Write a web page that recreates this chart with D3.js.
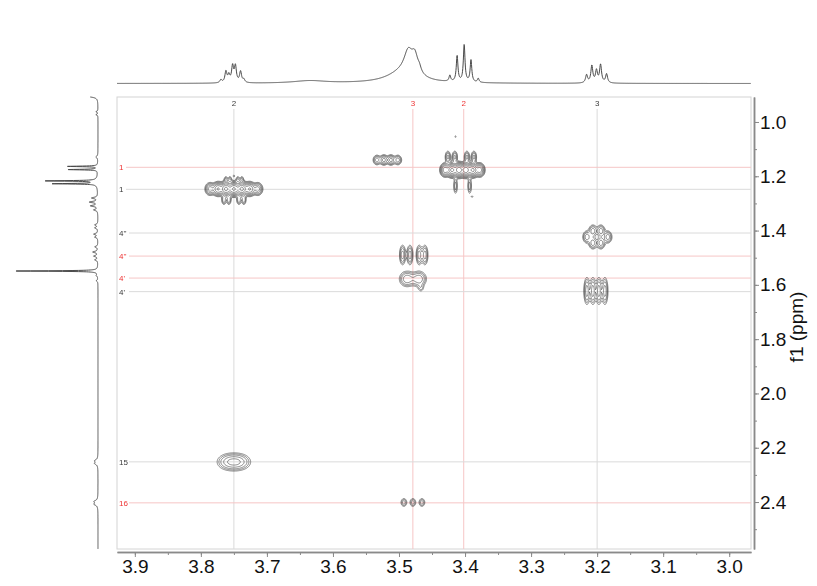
<!DOCTYPE html>
<html>
<head>
<meta charset="utf-8">
<script src="https://cdn.jsdelivr.net/npm/d3@7"></script>
<style>
  body { margin: 0; background: #fff; }
  text { font-family: "Liberation Sans", Arial, sans-serif; }
</style>
</head>
<body>
<svg id="chart" width="817" height="586">
  <defs>
    <!-- identity filter: renders the small labels with plain greyscale smoothing -->
    <filter id="flat"><feOffset dx="0" dy="0"/></filter>
  </defs>
</svg>
<script>
// ---------- axis ticks ----------
const f2Ticks = [3.9, 3.8, 3.7, 3.6, 3.5, 3.4, 3.3, 3.2, 3.1, 3.0];
const f1Ticks = [1.0, 1.2, 1.4, 1.6, 1.8, 2.0, 2.2, 2.4];
const f1Title = "f1 (ppm)";

// ---------- assignment guide lines ----------
const f2Guides      = [3.750, 3.479, 3.402, 3.200];
const f2GuideLabels = ["2", "3", "2", "3"];
const f2GuideRed    = [false, true, true, false];

const f1Guides      = [1.167, 1.248, 1.409, 1.494, 1.575, 1.625, 2.252, 2.403];
const f1GuideLabels = ["1", "1", "4''", "4''", "4'", "4'", "15", "16"];
const f1GuideRed    = [true, false, false, true, true, false, false, true];

// ---------- 1H trace along f2 (top): [ppm, height, half width] ----------
const f2Lines = [
  [3.7697, 3, 0.0018], [3.7621, 11, 0.0018], [3.7576, 7, 0.0018],
  [3.7520, 16, 0.0018], [3.7477, 16, 0.0018], [3.7399, 11, 0.0018], [3.7349, 3, 0.0018],
  [3.6350, 2.5, 0.030],
  [3.4960, 10, 0.028], [3.4860, 22, 0.008], [3.4760, 18, 0.006], [3.4690, 4, 0.003],
  [3.4230, 6, 0.0015], [3.4120, 26, 0.0015], [3.4013, 37, 0.0015],
  [3.3910, 22, 0.0015], [3.3800, 4, 0.0015],
  [3.2160, 8, 0.0018], [3.2080, 17, 0.0018], [3.2010, 12, 0.0018],
  [3.1948, 18, 0.0018], [3.1857, 9, 0.0018]
];

// ---------- 1H trace along f1 (left): [ppm, height, half width] ----------
const f1Lines = [
  [0.905, 12, 0.004],
  [0.962, 2, 0.002], [0.973, 2, 0.002], [1.129, 2, 0.004],
  [1.1636, 30, 0.0012], [1.1754, 30, 0.0012],
  [1.2170, 51, 0.0012], [1.2275, 43, 0.0012], [1.2220, 3, 0.012],
  [1.280, 6, 0.003], [1.295, 8, 0.003], [1.309, 7, 0.003], [1.324, 4, 0.003],
  [1.379, 3, 0.003], [1.390, 3, 0.003], [1.413, 4, 0.003], [1.424, 3, 0.003],
  [1.460, 3, 0.003], [1.479, 5, 0.003], [1.494, 4, 0.003], [1.508, 3, 0.003],
  [1.549, 84, 0.0012],
  [1.565, 1.5, 0.003], [1.585, 1.5, 0.003],
  [2.248, 3, 0.005], [2.258, 3, 0.005],
  [2.398, 3.5, 0.005], [2.408, 3.5, 0.005]
];

// ---------- cross peaks: [f2 ppm, f1 ppm, amplitude, sigma f2, sigma f1] ----------
const crossPeaks = [
  // H2 / H1 (3.75, 1.25)
  [3.7500, 1.2468, 0.16, 0.0150, 0.0150],
  [3.7863, 1.2468, 0.30, 0.0040, 0.0125], [3.7742, 1.2468, 0.55, 0.0040, 0.0125],
  [3.7621, 1.2468, 0.85, 0.0040, 0.0125], [3.7500, 1.2468, 0.75, 0.0040, 0.0125],
  [3.7379, 1.2468, 0.85, 0.0040, 0.0125], [3.7258, 1.2468, 0.55, 0.0040, 0.0125],
  [3.7137, 1.2468, 0.30, 0.0040, 0.0125],
  [3.7651, 1.2873, 0.16, 0.0021, 0.0110], [3.7576, 1.2873, 0.16, 0.0021, 0.0110],
  [3.7424, 1.2873, 0.16, 0.0021, 0.0110], [3.7349, 1.2873, 0.16, 0.0021, 0.0110],
  [3.7621, 1.2136, 0.12, 0.0018, 0.0092], [3.7560, 1.2136, 0.12, 0.0018, 0.0092],
  [3.7440, 1.2136, 0.12, 0.0018, 0.0092], [3.7379, 1.2136, 0.12, 0.0018, 0.0092],
  [3.7500, 1.1989, 0.08, 0.0012, 0.0030],
  // (3.52, 1.14)
  [3.5335, 1.1400, 0.22, 0.0033, 0.0103], [3.5229, 1.1400, 0.30, 0.0033, 0.0103],
  [3.5123, 1.1400, 0.30, 0.0033, 0.0103], [3.5017, 1.1400, 0.22, 0.0033, 0.0103],
  // H2 / H1 (3.40, 1.17)
  [3.4040, 1.1768, 0.18, 0.0150, 0.0150],
  [3.4305, 1.1768, 0.45, 0.0036, 0.0125], [3.4199, 1.1768, 0.85, 0.0036, 0.0125],
  [3.4093, 1.1768, 0.95, 0.0036, 0.0125], [3.3987, 1.1768, 0.95, 0.0036, 0.0125],
  [3.3881, 1.1768, 0.85, 0.0036, 0.0125], [3.3775, 1.1768, 0.45, 0.0036, 0.0125],
  [3.4260, 1.1289, 0.20, 0.0024, 0.0129], [3.4155, 1.1289, 0.20, 0.0024, 0.0129],
  [3.3972, 1.1289, 0.20, 0.0024, 0.0129], [3.3866, 1.1289, 0.20, 0.0024, 0.0129],
  [3.4144, 1.2357, 0.15, 0.0018, 0.0184], [3.3930, 1.2357, 0.15, 0.0018, 0.0184],
  [3.4144, 1.0541, 0.08, 0.0012, 0.0030], [3.3893, 1.2751, 0.08, 0.0012, 0.0030],
  // H3 / H4'' (3.20, 1.42)
  [3.2155, 1.4236, 0.22, 0.0036, 0.0129], [3.2064, 1.4015, 0.22, 0.0036, 0.0129],
  [3.2064, 1.4457, 0.22, 0.0036, 0.0129], [3.1943, 1.4015, 0.22, 0.0036, 0.0129],
  [3.1943, 1.4457, 0.22, 0.0036, 0.0129], [3.1837, 1.4236, 0.22, 0.0036, 0.0129],
  // H3 / H4' (3.20, 1.62)
  [3.2155, 1.6225, 0.22, 0.0027, 0.0290], [3.2064, 1.6225, 0.22, 0.0027, 0.0290],
  [3.1973, 1.6225, 0.22, 0.0027, 0.0290], [3.1882, 1.6225, 0.22, 0.0027, 0.0290],
  // H3 / H4'' (3.48, 1.49)
  [3.4946, 1.4899, 0.22, 0.0027, 0.0210], [3.4835, 1.4899, 0.22, 0.0027, 0.0210],
  [3.4694, 1.4899, 0.22, 0.0027, 0.0210], [3.4608, 1.4899, 0.22, 0.0027, 0.0210],
  // H3 / H4' (3.48, 1.58)
  [3.4880, 1.5783, 0.24, 0.0065, 0.0160], [3.4699, 1.5783, 0.24, 0.0065, 0.0160],
  [3.4668, 1.6114, 0.08, 0.0030, 0.0100],
  // H2 / H15 (3.75, 2.25)
  [3.7575, 2.2523, 0.20, 0.0106, 0.0175], [3.7425, 2.2523, 0.20, 0.0106, 0.0175],
  // H3 / H16 (3.48, 2.40)
  [3.4926, 2.4015, 0.14, 0.0030, 0.0100], [3.4790, 2.4015, 0.14, 0.0030, 0.0100],
  [3.4653, 2.4015, 0.14, 0.0030, 0.0100]
];
const contourLevels = [0.05, 0.075, 0.11, 0.17, 0.25, 0.38, 0.57, 0.85];

// ---------- layout ----------
const svg = d3.select("#chart");
const frame = { left: 117, right: 751, top: 97, bottom: 549 };
const x = d3.scaleLinear().domain([3.927, 2.967]).range([frame.left, frame.right]);
const y = d3.scaleLinear().domain([0.908, 2.573]).range([frame.top, frame.bottom]);
const topI = d3.scaleLinear().domain([0, 45]).range([83.5, 38.5]);
const leftI = d3.scaleLinear().domain([0, 84]).range([98, 14]);

const lorentz = (lines, p) => d3.sum(lines, l => l[1] / (1 + ((p - l[0]) / l[2]) ** 2));

// plot frame
svg.append("rect")
  .attr("x", frame.left).attr("y", frame.top)
  .attr("width", frame.right - frame.left).attr("height", frame.bottom - frame.top)
  .attr("fill", "none").attr("stroke", "#d4d4d4").attr("stroke-width", 1);

// guide lines with their assignment labels
const gray = "#dadada", pink = "#f6c6c6";
const labGray = "#3a3a3a", labRed = "#ee3333";
const gv = svg.append("g");
const gl = svg.append("g").attr("filter", "url(#flat)");
f2Guides.forEach((p, i) => {
  gv.append("line")
    .attr("x1", x(p)).attr("x2", x(p))
    .attr("y1", frame.top + 12).attr("y2", frame.bottom)
    .attr("stroke", f2GuideRed[i] ? pink : gray).attr("stroke-width", 1);
  gl.append("text")
    .attr("x", x(p)).attr("y", frame.top + 9)
    .attr("text-anchor", "middle").attr("font-size", 8)
    .attr("fill", f2GuideRed[i] ? labRed : labGray)
    .text(f2GuideLabels[i]);
});
f1Guides.forEach((p, i) => {
  const w = f1GuideLabels[i].length > 1 ? 12 : 9;
  gv.append("line")
    .attr("x1", frame.left + w).attr("x2", frame.right)
    .attr("y1", y(p)).attr("y2", y(p))
    .attr("stroke", f1GuideRed[i] ? pink : gray).attr("stroke-width", 1);
  gl.append("text")
    .attr("x", frame.left + 2).attr("y", y(p) + 3)
    .attr("font-size", 8)
    .attr("fill", f1GuideRed[i] ? labRed : labGray)
    .text(f1GuideLabels[i]);
});

// contour field sampled on the pixel grid of the frame
const nx = frame.right - frame.left, ny = frame.bottom - frame.top;
const field = new Float64Array(nx * ny);
crossPeaks.forEach(([c2, c1, a, s2, s1]) => {
  const px = x(c2) - frame.left, py = y(c1) - frame.top;
  const rx = Math.abs(x(c2 + 5 * s2) - x(c2)), ry = Math.abs(y(c1 + 5 * s1) - y(c1));
  const i0 = Math.max(0, Math.floor(px - rx)), i1 = Math.min(nx - 1, Math.ceil(px + rx));
  const j0 = Math.max(0, Math.floor(py - ry)), j1 = Math.min(ny - 1, Math.ceil(py + ry));
  for (let j = j0; j <= j1; j++) {
    const f1 = y.invert(frame.top + j + 0.5);
    const ey = ((f1 - c1) / s1) ** 2;
    for (let i = i0; i <= i1; i++) {
      const f2 = x.invert(frame.left + i + 0.5);
      field[j * nx + i] += a * Math.exp(-0.5 * (ey + ((f2 - c2) / s2) ** 2));
    }
  }
});
const contours = d3.contours().size([nx, ny]).thresholds(contourLevels)(field);
const toFrame = d3.geoTransform({
  point(px, py) { this.stream.point(frame.left + px, frame.top + py); }
});
svg.append("g")
  .selectAll("path").data(contours).join("path")
  .attr("d", d3.geoPath(toFrame))
  .attr("fill", "none").attr("stroke", "#3c3c3c").attr("stroke-width", 0.6)
  .attr("stroke-linejoin", "round");

// top 1D trace
const f2Samples = d3.range(3.927, 2.967, -0.0004);
svg.append("path")
  .datum(f2Samples)
  .attr("d", d3.line().x(p => x(p)).y(p => topI(lorentz(f2Lines, p))))
  .attr("fill", "none").attr("stroke", "#4a4a4a").attr("stroke-width", 1);

// left 1D trace
const f1Samples = d3.range(0.908, 2.573, 0.0004);
svg.append("path")
  .datum(f1Samples)
  .attr("d", d3.line().x(p => leftI(lorentz(f1Lines, p))).y(p => y(p)))
  .attr("fill", "none").attr("stroke", "#4a4a4a").attr("stroke-width", 1);

// axes
const minorF2 = d3.range(3.95, 2.96, -0.05).filter(v => v <= 3.927 && v >= 2.967);
const minorF1 = d3.range(0.9, 2.58, 0.1).filter(v => v >= 0.908 && v <= 2.573);
const axisColor = "#8a8a8a";

const gxMinor = svg.append("g").attr("transform", "translate(0,552)")
  .call(d3.axisBottom(x).tickValues(minorF2).tickSize(3).tickFormat("").tickSizeOuter(0));
const gx = svg.append("g").attr("transform", "translate(0,552)")
  .call(d3.axisBottom(x).tickValues(f2Ticks).tickFormat(d3.format(".1f")).tickSize(5).tickSizeOuter(0).tickPadding(3));
const gyMinor = svg.append("g").attr("transform", "translate(754,0)")
  .call(d3.axisRight(y).tickValues(minorF1).tickSize(3).tickFormat("").tickSizeOuter(0));
const gy = svg.append("g").attr("transform", "translate(754,0)")
  .call(d3.axisRight(y).tickValues(f1Ticks).tickFormat(d3.format(".1f")).tickSize(5).tickSizeOuter(0).tickPadding(1));

[gxMinor, gx, gyMinor, gy].forEach(g => {
  g.select(".domain").attr("stroke", axisColor).attr("stroke-width", 1.5);
  g.selectAll(".tick line").attr("stroke", axisColor);
  g.selectAll(".tick text").attr("fill", "#111").attr("font-size", 19)
    .attr("font-family", "'Liberation Sans', Arial, sans-serif");
});

svg.append("text")
  .attr("transform", "translate(803,327) rotate(-90)")
  .attr("text-anchor", "middle").attr("font-size", 19).attr("fill", "#111")
  .text(f1Title);
</script>
</body>
</html>
